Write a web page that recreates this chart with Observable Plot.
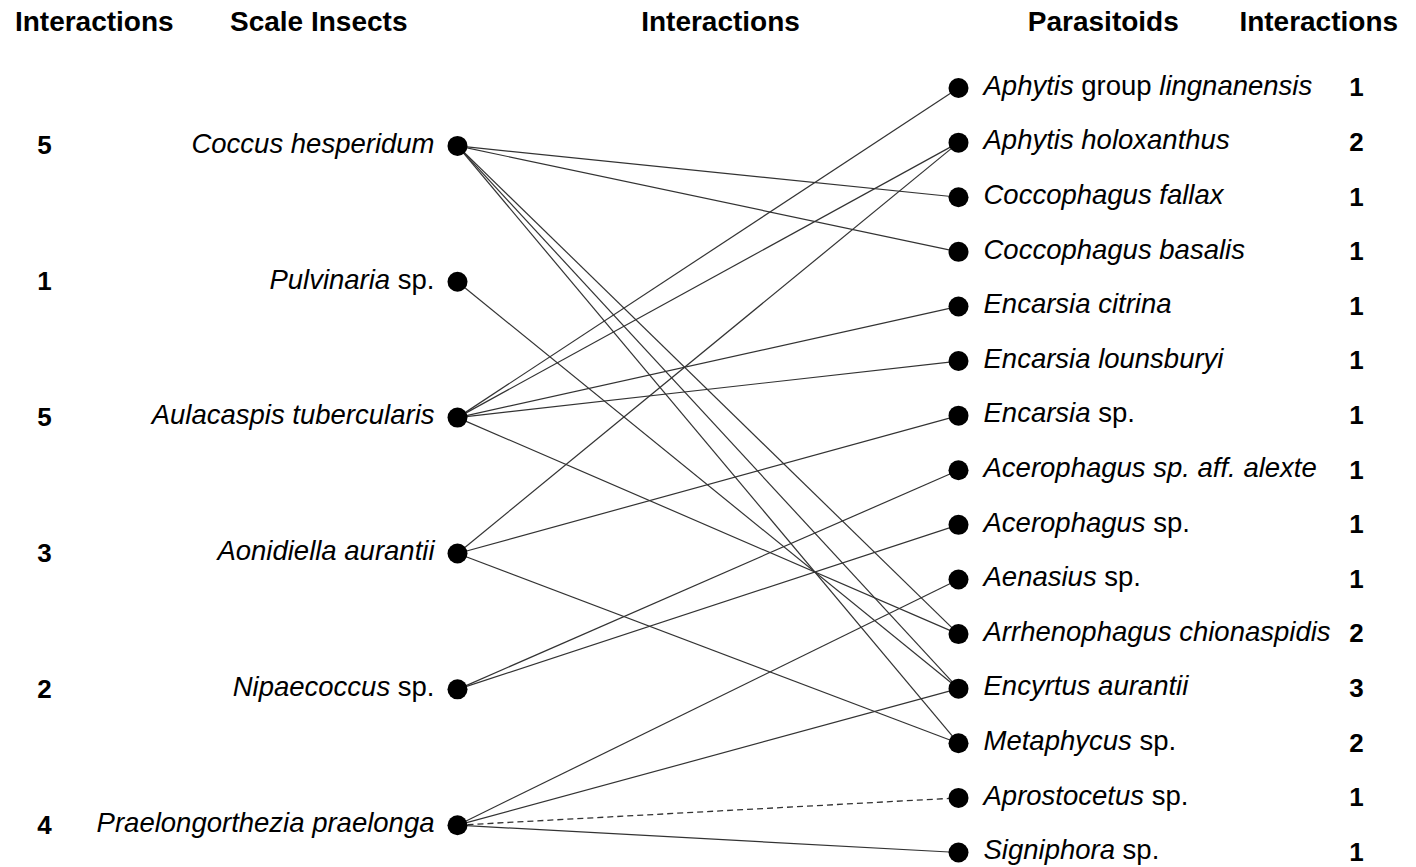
<!DOCTYPE html>
<html>
<head>
<meta charset="utf-8">
<script src="https://cdn.jsdelivr.net/npm/d3@7"></script>
<script src="https://cdn.jsdelivr.net/npm/@observablehq/plot@0.6"></script>
<style>
  html, body { margin: 0; padding: 0; background: #fff; }
  #chart svg { display: block; }
</style>
</head>
<body>
<div id="chart"></div>
<script>
// ---- Data ----
// Text between underscores is italic.
const scaleInsects = [
  "_Coccus hesperidum_",
  "_Pulvinaria_ sp.",
  "_Aulacaspis tubercularis_",
  "_Aonidiella aurantii_",
  "_Nipaecoccus_ sp.",
  "_Praelongorthezia praelonga_"
];
const scaleInsectCounts = [5, 1, 5, 3, 2, 4];

const parasitoids = [
  "_Aphytis_ group _lingnanensis_",
  "_Aphytis holoxanthus_",
  "_Coccophagus fallax_",
  "_Coccophagus basalis_",
  "_Encarsia citrina_",
  "_Encarsia lounsburyi_",
  "_Encarsia_ sp.",
  "_Acerophagus sp. aff. alexte_",
  "_Acerophagus_ sp.",
  "_Aenasius_ sp.",
  "_Arrhenophagus chionaspidis_",
  "_Encyrtus aurantii_",
  "_Metaphycus_ sp.",
  "_Aprostocetus_ sp.",
  "_Signiphora_ sp."
];
const parasitoidCounts = [1, 2, 1, 1, 1, 1, 1, 1, 1, 1, 2, 3, 2, 1, 1];

// interactions: [scale insect index, parasitoid index]
const interactionFrom = [0, 0, 0, 0, 0, 1, 2, 2, 2, 2, 2, 3, 3, 3, 4, 4, 5, 5, 5, 5];
const interactionTo   = [2, 3, 10, 11, 12, 11, 0, 1, 4, 5, 10, 1, 6, 12, 7, 8, 9, 11, 13, 14];
const interactionDashed = [0,0,0,0,0,0,0,0,0,0,0,0,0,0,0,0,0,0,1,0];

const headers = ["Interactions", "Scale Insects", "Interactions", "Parasitoids", "Interactions"];

// ---- Layout helpers (not data) ----
const plain = s => s.replace(/_/g, "");
const leftRow = i => 1.06 + i * (13.5 - 1.06) / (scaleInsects.length - 1);
const rightRow = j => j;
const headerX = [-0.725, -0.277, 0.525, 1.289, 1.719];
const headerRow = -1.2;

const insects = scaleInsects.map((s, i) => ({name: plain(s), count: scaleInsectCounts[i], row: leftRow(i)}));
const paras = parasitoids.map((s, j) => ({name: plain(s), count: parasitoidCounts[j], row: rightRow(j)}));
const links = interactionFrom.map((f, k) => ({
  y1: leftRow(f), y2: rightRow(interactionTo[k]), dashed: interactionDashed[k] === 1
}));
const headerData = headers.map((h, k) => ({text: h, x: headerX[k], row: headerRow}));

const FONT = "'Liberation Sans', Arial, Helvetica, sans-serif";

const chart = Plot.plot({
  width: 1416,
  height: 867,
  x: {domain: [0, 1], range: [457, 958], axis: null},
  y: {domain: [-1.2, 14], range: [22, 852], axis: null},
  style: {fontFamily: FONT, background: "#fff", color: "#000"},
  marks: [
    Plot.link(links.filter(d => !d.dashed), {
      x1: () => 0, x2: () => 1, y1: "y1", y2: "y2",
      stroke: "#333", strokeWidth: 1.2
    }),
    Plot.link(links.filter(d => d.dashed), {
      x1: () => 0, x2: () => 1, y1: "y1", y2: "y2",
      stroke: "#333", strokeWidth: 1.3, strokeDasharray: "6,4"
    }),
    Plot.dot(insects, {x: () => 0, y: "row", r: 10, fill: "#000", stroke: null}),
    Plot.dot(paras, {x: () => 1, y: "row", r: 10, fill: "#000", stroke: null}),
    // label marks: first two text marks (styled with tspans below)
    Plot.text(insects, {
      x: () => 0, y: "row", text: "name", textAnchor: "end", dx: -23, dy: -2,
      fontSize: 27.5, fill: "#000"
    }),
    Plot.text(paras, {
      x: () => 1, y: "row", text: "name", textAnchor: "start", dx: 25, dy: -2,
      fontSize: 27.5, fill: "#000"
    }),
    Plot.text(insects, {
      x: () => 0, y: "row", text: d => String(d.count), dx: -413,
      fontSize: 26, fontWeight: "bold", fill: "#000"
    }),
    Plot.text(paras, {
      x: () => 1, y: "row", text: d => String(d.count), dx: 398,
      fontSize: 26, fontWeight: "bold", fill: "#000"
    }),
    Plot.text(headerData, {
      x: "x", y: "row", text: "text",
      fontSize: 28, fontWeight: "bold", fill: "#000"
    })
  ]
});

// Rebuild labels with italic / roman parts as tspans
function styleLabels(group, markup) {
  if (!group) return;
  d3.select(group).selectAll("text").each(function (_, i) {
    const el = d3.select(this);
    const src = markup[i];
    if (src == null) return;
    el.text(null);
    src.split("_").forEach((part, k) => {
      if (part) el.append("tspan").style("font-style", k % 2 ? "italic" : "normal").text(part);
    });
  });
}
const textGroups = chart.querySelectorAll('g[aria-label="text"]');
styleLabels(textGroups[0], scaleInsects);
styleLabels(textGroups[1], parasitoids);

document.getElementById("chart").append(chart);
</script>
</body>
</html>
